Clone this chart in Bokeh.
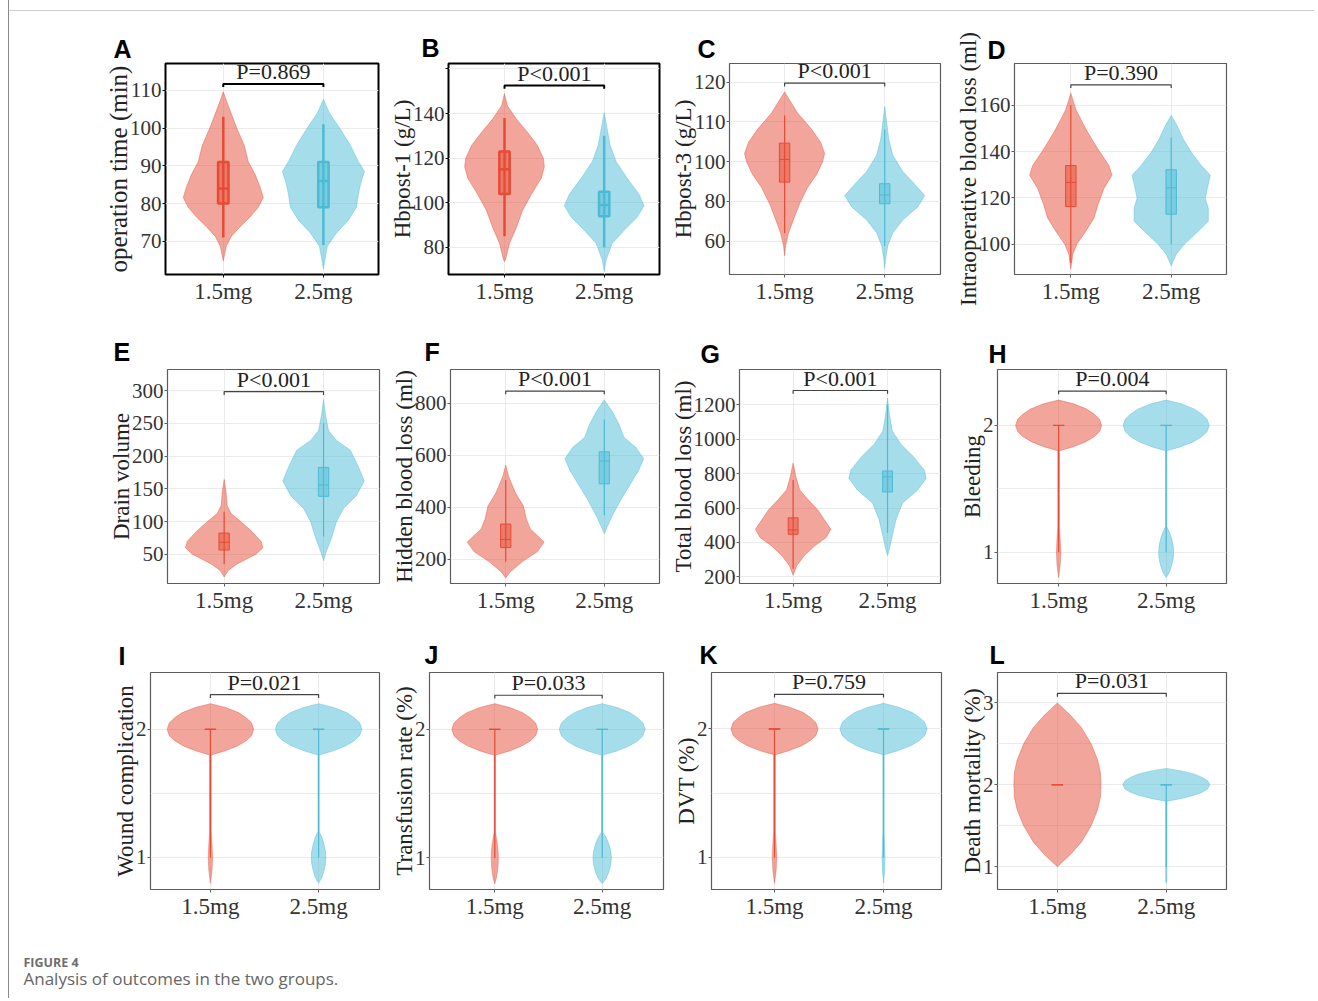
from bokeh.plotting import figure
from bokeh.models import Range1d, FixedTicker, Div, Spacer
from bokeh.layouts import row, column
from bokeh.embed import file_html
from bokeh.resources import INLINE
from bokeh.core.properties import value

groups = ["1.5mg", "2.5mg"]
colors = ["#E64B35", "#4DBBD5"]

# ---------------- data ----------------
# box stats: [whisker low, q1, median, q3, whisker high]
A_ylabel = "operation time (min)"
A_p = "P=0.869"
A_yticks = [70, 80, 90, 100, 110]
A_y_15 = [109.6, 106.6, 103.1, 99.7, 95.4, 91.1, 87.6, 84.2, 81.6, 79.0, 76.5, 73.9, 71.3, 68.7, 64.8]
A_w_15 = [0, .04, .09, .14, .21, .25, .32, .37, .40, .35, .27, .17, .08, .03, 0]
A_y_25 = [107.6, 104.0, 99.7, 95.4, 91.1, 88.5, 85.1, 82.5, 79.0, 75.6, 72.2, 68.7, 62.7]
A_w_25 = [0, .06, .17, .27, .35, .41, .37, .35, .33, .25, .13, .04, 0]
A_box_15 = [71, 80, 84, 91, 103]
A_box_25 = [69, 79, 86, 91, 101]

B_ylabel = "Hbpost-1 (g/L)"
B_p = "P<0.001"
B_yticks = [80, 100, 120, 140, 160]
B_y_15 = [148.9, 143.4, 137.5, 131.6, 125.8, 119.9, 116.2, 111.1, 103.8, 96.5, 89.1, 81.8, 74.5, 73.7]
B_w_15 = [0, .03, .12, .23, .33, .39, .40, .37, .27, .18, .12, .05, .01, 0]
B_y_25 = [140.4, 133.1, 125.8, 118.4, 111.1, 103.8, 98.7, 93.5, 87.7, 81.8, 74.5, 69.3]
B_w_25 = [0, .03, .06, .12, .23, .35, .40, .33, .20, .08, .02, 0]
B_box_15 = [85, 104, 115, 123, 138]
B_box_25 = [80, 94, 99, 105, 130]

C_ylabel = "Hbpost-3 (g/L)"
C_p = "P<0.001"
C_yticks = [60, 80, 100, 120, 140]
C_ylabels = ["60", "80", "100", "110", "120"]
C_y_15 = [135.1, 131.0, 124.5, 116.3, 109.8, 104.1, 100.0, 93.5, 87.0, 78.8, 72.3, 64.1, 57.6, 52.7]
C_w_15 = [0, .05, .13, .27, .36, .40, .38, .32, .23, .15, .10, .04, .01, 0]
C_y_25 = [127.7, 119.6, 111.4, 103.3, 95.1, 88.6, 82.9, 77.2, 70.6, 64.1, 57.6, 51.1, 46.2]
C_w_25 = [0, .02, .04, .08, .18, .30, .40, .33, .18, .08, .03, .01, 0]
C_box_15 = [64.1, 89.7, 101.1, 109.3, 123.2]
C_box_25 = [57.6, 78.8, 83.2, 88.9, 116.3]

D_ylabel = "Intraoperative blood loss (ml)"
D_p = "P=0.390"
D_yticks = [100, 120, 140, 160]
D_y_15 = [165.2, 158.2, 153.9, 148.2, 141.1, 134.0, 129.8, 124.1, 117.0, 111.3, 105.7, 100.0, 95.7, 89.4]
D_w_15 = [0, .05, .10, .17, .27, .38, .41, .33, .27, .23, .15, .06, .02, 0]
D_y_25 = [155.6, 151.1, 145.4, 139.7, 134.0, 129.8, 124.1, 119.9, 115.6, 110.0, 105.7, 100.0, 95.7, 90.8]
D_w_25 = [0, .06, .12, .20, .30, .39, .36, .34, .37, .37, .27, .13, .05, 0]
D_box_15 = [92, 116.3, 126.7, 134, 160]
D_box_25 = [100, 113, 124.4, 132.2, 146.1]

E_ylabel = "Drain volume"
E_p = "P<0.001"
E_yticks = [50, 100, 150, 200, 250, 300]
E_y_15 = [164.3, 144.4, 124.6, 112.1, 99.7, 84.8, 69.9, 60.0, 50.0, 35.1, 25.2, 15.2]
E_w_15 = [0, .02, .03, .07, .17, .28, .37, .39, .32, .13, .04, 0]
E_y_25 = [286.1, 263.7, 238.9, 224.0, 209.0, 184.2, 161.8, 139.5, 119.6, 99.7, 74.9, 55.0, 40.1]
E_w_25 = [0, .02, .05, .13, .27, .35, .41, .33, .20, .13, .08, .03, 0]
E_box_15 = [35, 56.5, 68.4, 82.3, 115]
E_box_25 = [77, 138.5, 155.9, 182.7, 250]

F_ylabel = "Hidden blood loss (ml)"
F_p = "P<0.001"
F_yticks = [200, 400, 600, 800]
F_y_15 = [562.3, 518.2, 455.3, 405.0, 354.7, 317.0, 266.7, 229.0, 191.3, 153.5, 128.3]
F_w_15 = [0, .03, .10, .18, .21, .25, .39, .32, .17, .05, 0]
F_y_25 = [813.8, 769.8, 719.5, 669.2, 631.4, 587.4, 543.4, 493.1, 430.2, 367.3, 317.0, 298.1]
F_w_25 = [0, .08, .15, .20, .32, .40, .35, .27, .17, .08, .02, 0]
F_box_15 = [191, 245.3, 276.7, 335.8, 505]
F_box_25 = [369.8, 490.6, 578.6, 613.8, 738.4]

G_ylabel = "Total blood loss (ml)"
G_p = "P<0.001"
G_yticks = [200, 400, 600, 800, 1000, 1200]
G_y_15 = [860.9, 781.0, 704.8, 647.6, 590.5, 533.3, 476.2, 428.6, 381.0, 323.8, 266.7, 209.5]
G_w_15 = [0, .03, .07, .16, .26, .33, .40, .35, .23, .12, .04, 0]
G_y_25 = [1238, 1142.9, 1047.6, 971.4, 895.2, 819.0, 771.4, 704.8, 628.6, 533.3, 438.1, 361.9, 323.8]
G_w_25 = [0, .02, .05, .14, .28, .39, .41, .32, .16, .09, .05, .02, 0]
G_box_15 = [247.6, 447.6, 472.4, 542.9, 761.9]
G_box_25 = [457, 693, 781, 815, 1200]

H_ylabel = "Bleeding"
H_p = "P=0.004"
H_yticks = [1, 2]
H_y_15 = [2.2, 2.17, 2.13, 2.09, 2.05, 2.0, 1.95, 1.91, 1.87, 1.83, 1.8, 1.2, 1.1, 1.0, 0.9, 0.8]
H_w_15 = [0, .14, .26, .33, .38, .40, .38, .33, .25, .13, .008, .008, .015, .02, .015, 0]
H_y_25 = [2.2, 2.17, 2.13, 2.09, 2.05, 2.0, 1.95, 1.91, 1.87, 1.83, 1.8, 1.2, 1.16, 1.11, 1.05, 1.0, 0.95, 0.89, 0.84, 0.8]
H_w_25 = [0, .14, .26, .33, .38, .40, .38, .33, .25, .13, .006, .006, .03, .05, .066, .07, .066, .05, .03, 0]
H_box_15 = [1, 2, 2, 2, 2]
H_box_25 = [1, 2, 2, 2, 2]

I_ylabel = "Wound complication"
I_p = "P=0.021"
I_yticks = [1, 2]
I_y_15 = [2.2, 2.17, 2.13, 2.09, 2.05, 2.0, 1.95, 1.91, 1.87, 1.83, 1.8, 1.2, 1.1, 1.0, 0.9, 0.8]
I_w_15 = [0, .14, .26, .33, .38, .40, .38, .33, .25, .13, .008, .008, .015, .02, .015, 0]
I_y_25 = [2.2, 2.17, 2.13, 2.09, 2.05, 2.0, 1.95, 1.91, 1.87, 1.83, 1.8, 1.2, 1.16, 1.11, 1.05, 1.0, 0.95, 0.89, 0.84, 0.8]
I_w_25 = [0, .14, .26, .33, .38, .40, .38, .33, .25, .13, .006, .006, .03, .048, .064, .068, .064, .048, .03, 0]
I_box_15 = [1, 2, 2, 2, 2]
I_box_25 = [1, 2, 2, 2, 2]

J_ylabel = "Transfusion rate (%)"
J_p = "P=0.033"
J_yticks = [1, 2]
J_y_15 = [2.2, 2.17, 2.13, 2.09, 2.05, 2.0, 1.95, 1.91, 1.87, 1.83, 1.8, 1.2, 1.16, 1.11, 1.05, 1.0, 0.95, 0.89, 0.84, 0.8]
J_w_15 = [0, .14, .26, .33, .38, .40, .38, .33, .25, .13, .006, .006, .014, .024, .031, .033, .031, .024, .014, 0]
J_y_25 = [2.2, 2.17, 2.13, 2.09, 2.05, 2.0, 1.95, 1.91, 1.87, 1.83, 1.8, 1.2, 1.16, 1.11, 1.05, 1.0, 0.95, 0.89, 0.84, 0.8]
J_w_25 = [0, .14, .26, .33, .38, .40, .38, .33, .25, .13, .006, .006, .037, .062, .081, .086, .081, .062, .037, 0]
J_box_15 = [1, 2, 2, 2, 2]
J_box_25 = [1, 2, 2, 2, 2]

K_ylabel = "DVT (%)"
K_p = "P=0.759"
K_yticks = [1, 2]
K_y_15 = [2.2, 2.17, 2.13, 2.09, 2.05, 2.0, 1.95, 1.91, 1.87, 1.83, 1.8, 1.2, 1.1, 1.0, 0.9, 0.8]
K_w_15 = [0, .14, .26, .33, .38, .40, .38, .33, .25, .13, .008, .008, .015, .02, .015, 0]
K_y_25 = [2.2, 2.17, 2.13, 2.09, 2.05, 2.0, 1.95, 1.91, 1.87, 1.83, 1.8, 1.2, 1.1, 1.0, 0.9, 0.8]
K_w_25 = [0, .14, .26, .33, .38, .40, .38, .33, .25, .13, .006, .006, .01, .013, .01, 0]
K_box_15 = [1, 2, 2, 2, 2]
K_box_25 = [1, 2, 2, 2, 2]

L_ylabel = "Death mortality (%)"
L_p = "P=0.031"
L_yticks = [1, 2, 3]
L_y_15 = [3.0, 2.85, 2.7, 2.5, 2.3, 2.15, 2.0, 1.85, 1.7, 1.5, 1.3, 1.15, 1.0]
L_w_15 = [0, .12, .22, .31, .37, .395, .40, .395, .37, .31, .22, .12, 0]
L_y_25 = [2.2, 2.17, 2.13, 2.09, 2.05, 2.0, 1.95, 1.91, 1.87, 1.83, 1.8, 0.82, 0.8]
L_w_25 = [0, .14, .26, .33, .38, .40, .38, .33, .25, .13, .006, .006, 0]
L_box_15 = [2, 2, 2, 2, 2]
L_box_25 = [1, 2, 2, 2, 2]

# ---------------- layout / style (positions, not data) ----------------
GEOM = {
    "A": dict(l=156, fw=213, r=7, t=51, fh=217, b=39, xr=(0.423, 2.55), yr=(61.2, 117.1), br=111.7, tip=110.9, off=-52, so=2, heavy=True),
    "B": dict(l=63, fw=211, r=6, t=52, fh=215, b=40, xr=(0.438, 2.555), yr=(67.9, 162.4), br=152.5, tip=151.1, off=-27, so=3, heavy=True),
    "C": dict(l=64, fw=211, r=5, t=51, fh=217, b=39, xr=(0.45, 2.557), yr=(43.2, 149.4), br=139.5, tip=137.8, off=-32, so=2),
    "D": dict(l=69, fw=212, r=84, t=49, fh=214, b=44, xr=(0.439, 2.551), yr=(87.0, 178.0), br=168.8, tip=167.4, off=-27, so=0),
    "E": dict(l=158, fw=212, r=6, t=51, fh=219, b=34, xr=(0.43, 2.563), yr=(5.3, 332.3), br=298.5, tip=293.5, off=-54, so=7),
    "F": dict(l=65, fw=209, r=8, t=51, fh=218, b=35, xr=(0.44, 2.56), yr=(107, 930.8), br=847.8, tip=835.2, off=-26, so=7),
    "G": dict(l=71, fw=202, r=10, t=48, fh=217, b=39, xr=(0.432, 2.561), yr=(161.9, 1403.8), br=1281.9, tip=1262.9, off=-39, so=4),
    "H": dict(l=47, fw=229, r=84, t=48, fh=218, b=38, xr=(0.432, 2.561), yr=(0.753, 2.441), br=2.271, tip=2.245, off=-9, so=4),
    "I": dict(l=141, fw=229, r=6, t=49, fh=219, b=40, xr=(0.446, 2.563), yr=(0.75, 2.443), br=2.271, tip=2.245, off=-32, so=6),
    "J": dict(l=44, fw=234, r=5, t=50, fh=217, b=41, xr=(0.392, 2.571), yr=(0.755, 2.442), br=2.265, tip=2.24, off=-5, so=7),
    "K": dict(l=43, fw=230, r=9, t=50, fh=218, b=40, xr=(0.422, 2.532), yr=(0.75, 2.44), br=2.27, tip=2.245, off=-12, so=7),
    "L": dict(l=47, fw=229, r=84, t=50, fh=217, b=41, xr=(0.45, 2.553), yr=(0.722, 3.371), br=3.116, tip=3.075, off=-8, so=7),
}

SERIF = "Liberation Serif"


def make_panel(letter, ylabel, ptext, yticks, profiles, boxes, ylabels=None, minor=None, hidden=None):
    g = GEOM[letter]
    heavy = g.get("heavy", False)
    W = g["l"] + g["fw"] + g["r"]
    H = g["t"] + g["fh"] + g["b"]
    p = figure(width=W, height=H, x_range=Range1d(*g["xr"]), y_range=Range1d(*g["yr"]),
               output_backend="svg", toolbar_location=None,
               min_border_left=g["l"], min_border_right=g["r"],
               min_border_top=g["t"], min_border_bottom=g["b"], margin=0)
    frame_col = "black" if heavy else "#5c5c5c"
    p.outline_line_color = frame_col
    p.outline_line_width = 2 if heavy else 1.2
    p.background_fill_color = "white"
    p.border_fill_color = "white"

    # title = panel letter
    p.title.text = letter
    p.title.align = "left"
    p.title.offset = g["off"]
    p.title.text_font = "Liberation Sans"
    p.title.text_font_style = "bold"
    p.title.text_font_size = "25px"
    p.title.text_color = "black"
    p.title.standoff = g["so"]

    # axes
    xt = FixedTicker(ticks=[1, 2])
    p.xaxis.ticker = xt
    p.xgrid.ticker = xt
    p.xaxis.major_label_overrides = {1: groups[0], 2: groups[1]}
    yt = FixedTicker(ticks=yticks, minor_ticks=minor or [])
    p.yaxis.ticker = yt
    p.ygrid.ticker = yt
    labs = ylabels if ylabels is not None else [str(t) for t in yticks]
    ov = {t: s for t, s in zip(yticks, labs)}
    if hidden:
        for h in hidden:
            ov[h] = ""
    p.yaxis.major_label_overrides = ov
    p.yaxis.axis_label = ylabel
    for ax in (p.xaxis, p.yaxis):
        ax.axis_line_color = None
        ax.major_tick_out = 3
        ax.major_tick_in = 0
        ax.minor_tick_out = 0
        ax.minor_tick_in = 0
        ax.major_tick_line_color = frame_col
        ax.major_label_text_font = SERIF
        ax.major_label_text_color = "#333333"
        ax.major_label_standoff = 1
        ax.axis_label_text_font = SERIF
        ax.axis_label_text_font_size = "25px" if letter == "A" else "23px"
        ax.axis_label_text_font_style = "normal"
        ax.axis_label_text_color = "#222222"
    p.xaxis.major_label_text_font_size = "23px"
    p.yaxis.major_label_text_font_size = "21px"
    p.yaxis.axis_label_standoff = -5
    for gr in (p.xgrid, p.ygrid):
        gr.grid_line_color = "#EBEBEB"
        gr.grid_line_width = 1
    if minor:
        p.ygrid.minor_grid_line_color = "#EBEBEB"

    lw = 2.5 if heavy else 1.0
    bw = 0.052
    for i, ((ys, ws), bx, col) in enumerate(zip(profiles, boxes, colors)):
        cx = i + 1
        xs = [cx + w for w in ws] + [cx - w for w in ws[::-1]]
        yy = list(ys) + list(ys[::-1])
        p.patch(xs, yy, fill_color=col, fill_alpha=0.5, line_color=col, line_alpha=0.5, line_width=0.8)
        lo, q1, md, q3, hi = bx
        p.segment(x0=[cx], y0=[lo], x1=[cx], y1=[hi], line_color=col, line_width=lw if heavy else 1.2)
        p.quad(left=[cx - bw], right=[cx + bw], bottom=[q1], top=[q3],
               fill_color=col, fill_alpha=0.5, line_color=col, line_width=lw)
        p.segment(x0=[cx - bw], y0=[md], x1=[cx + bw], y1=[md], line_color=col, line_width=lw)

    # significance bracket
    p.line(x=[1, 1, 2, 2], y=[g["tip"], g["br"], g["br"], g["tip"]],
           line_color="black" if heavy else "#444444", line_width=2 if heavy else 1.2)
    p.text(x=[1.5], y=[g["br"]], text=[ptext], text_align="center", text_baseline="bottom",
           text_font=value(SERIF), text_font_size="22px", text_color="#222222")
    return p


pA = make_panel("A", A_ylabel, A_p, A_yticks, [(A_y_15, A_w_15), (A_y_25, A_w_25)], [A_box_15, A_box_25])
pB = make_panel("B", B_ylabel, B_p, B_yticks, [(B_y_15, B_w_15), (B_y_25, B_w_25)], [B_box_15, B_box_25], hidden=[160])
pC = make_panel("C", C_ylabel, C_p, C_yticks, [(C_y_15, C_w_15), (C_y_25, C_w_25)], [C_box_15, C_box_25], ylabels=C_ylabels)
pD = make_panel("D", D_ylabel, D_p, D_yticks, [(D_y_15, D_w_15), (D_y_25, D_w_25)], [D_box_15, D_box_25])
pE = make_panel("E", E_ylabel, E_p, E_yticks, [(E_y_15, E_w_15), (E_y_25, E_w_25)], [E_box_15, E_box_25])
pF = make_panel("F", F_ylabel, F_p, F_yticks, [(F_y_15, F_w_15), (F_y_25, F_w_25)], [F_box_15, F_box_25])
pG = make_panel("G", G_ylabel, G_p, G_yticks, [(G_y_15, G_w_15), (G_y_25, G_w_25)], [G_box_15, G_box_25])
pH = make_panel("H", H_ylabel, H_p, H_yticks, [(H_y_15, H_w_15), (H_y_25, H_w_25)], [H_box_15, H_box_25], minor=[1.5])
pI = make_panel("I", I_ylabel, I_p, I_yticks, [(I_y_15, I_w_15), (I_y_25, I_w_25)], [I_box_15, I_box_25], minor=[1.5])
pJ = make_panel("J", J_ylabel, J_p, J_yticks, [(J_y_15, J_w_15), (J_y_25, J_w_25)], [J_box_15, J_box_25], minor=[1.5])
pK = make_panel("K", K_ylabel, K_p, K_yticks, [(K_y_15, K_w_15), (K_y_25, K_w_25)], [K_box_15, K_box_25], minor=[1.5])
pL = make_panel("L", L_ylabel, L_p, L_yticks, [(L_y_15, L_w_15), (L_y_25, L_w_25)], [L_box_15, L_box_25], minor=[1.5, 2.5])

# caption
cap = figure(width=1301, height=63, x_range=Range1d(0, 1301), y_range=Range1d(63, 0),
             output_backend="svg", toolbar_location=None, min_border=0, margin=0,
             x_axis_type=None, y_axis_type=None)
cap.outline_line_color = None
cap.grid.visible = False
cap.text(x=[14], y=[32], text=["FIGURE 4"], text_font=value("Open Sans"), text_font_style="bold",
         text_font_size="12.5px", text_color="#6e6e6e", text_baseline="alphabetic")
cap.text(x=[14], y=[48], text=["Analysis of outcomes in the two groups."], text_font=value("Open Sans"),
         text_font_size="17px", text_color="#666666", text_baseline="alphabetic")

# thin frame lines of the figure page
left_line = Div(text="", width=1, height=998, margin=0, styles={"background-color": "#8a8a8a"})
top_line = Div(text="", width=1305, height=1, margin=0, styles={"background-color": "#cfcfcf"})

layout = row(Spacer(width=8, height=998, margin=0), left_line,
             column(Spacer(width=1301, height=10, margin=0), top_line,
                    row(pA, pB, pC, pD), row(pE, pF, pG, pH), row(pI, pJ, pK, pL), cap))

open("out.html", "w").write(file_html(layout, INLINE))
